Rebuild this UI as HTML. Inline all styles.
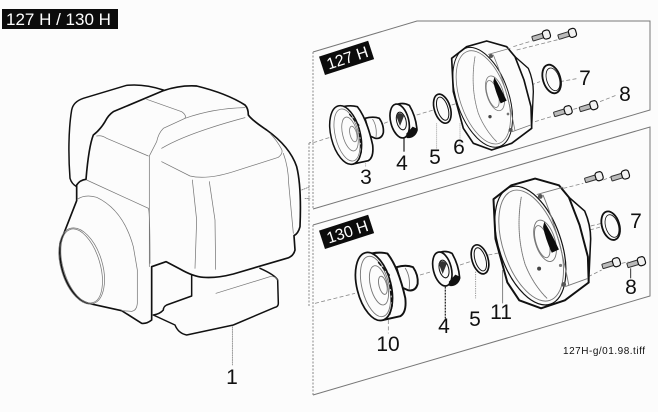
<!DOCTYPE html>
<html><head><meta charset="utf-8"><style>
html,body{margin:0;padding:0;background:#fcfcfc;width:658px;height:412px;overflow:hidden}
svg{display:block}
text{font-family:"Liberation Sans","DejaVu Sans",sans-serif;fill:#111}
.k{fill:none;stroke:#111;stroke-linecap:round;stroke-linejoin:round}
.f{fill:#fcfcfc;stroke:#111;stroke-linecap:round;stroke-linejoin:round}
.t{fill:none;stroke:#777;stroke-width:2.4;stroke-linecap:round}
.l{fill:none;stroke:#777;stroke-width:1}
.d{fill:none;stroke:#888;stroke-width:1;stroke-dasharray:2 1.5}
</style></head><body>
<svg width="658" height="412" viewBox="0 0 658 412" xmlns="http://www.w3.org/2000/svg">
<defs>
<g id="screw"><rect x="-29" y="-7" width="34" height="14" rx="2" fill="#bbb" stroke="#333" stroke-width="3"/><rect x="4" y="-13" width="22" height="26" rx="8" fill="#f2f2f2" stroke="#111" stroke-width="3.5"/></g>
<g id="drum">
<path class="f" stroke-width="5" d="M195 325Q220 318 238 325Q252 345 250 368Q245 388 226 385L210 378Z"/>
<path class="t" d="M218 328Q232 350 228 382"/>
<path class="f" stroke-width="5" d="M112 295Q145 283 172 290Q200 325 218 405Q222 442 205 452L160 462Z"/>
<ellipse class="f" stroke-width="4.5" cx="137" cy="375" rx="44" ry="90" transform="rotate(-14 137 375)"/>
<ellipse class="t" cx="141" cy="375" rx="35" ry="80" transform="rotate(-14 141 375)"/>
<ellipse class="t" cx="150" cy="372" rx="22" ry="52" transform="rotate(-14 150 372)"/>
<ellipse class="t" cx="160" cy="372" rx="10" ry="24" transform="rotate(-14 160 372)"/>
<path d="M148 312L176 345L184 425L176 452" stroke="#111" stroke-width="4" fill="none" stroke-dasharray="12 5"/>
</g>
<g id="bearing">
<path class="f" stroke-width="5" d="M282 288Q305 274 328 286Q348 320 351 360Q345 382 322 382L300 330Z"/>
<ellipse class="f" stroke-width="5" cx="299" cy="333" rx="27" ry="52" transform="rotate(-14 299 333)"/>
<ellipse class="k" stroke-width="3" cx="304" cy="333" rx="14" ry="27" transform="rotate(-14 304 333)"/>
<path d="M288 316Q300 302 312 318L300 348Z" fill="#333"/>
<path d="M324 381Q346 378 351 356L338 350L318 372Z" fill="#111"/>
</g>
<g id="ring">
<ellipse class="k" stroke-width="5" cx="427" cy="296" rx="24" ry="45" transform="rotate(-17 427 296)"/>
<ellipse class="k" stroke-width="3" cx="428" cy="296" rx="16" ry="36" transform="rotate(-17 428 296)"/>
</g>
<g id="housing">
<path class="f" stroke-width="4" d="M645 140L685 175Q700 210 700 245L695 355L660 380Z"/>
<path class="f" stroke-width="5" d="M455 145L500 110L560 93L620 110L645 140L672 210L693 290L695 355L635 400L575 420L520 400L490 355L460 245Z"/>
<ellipse class="k" stroke-width="3" cx="548" cy="262" rx="78" ry="156" transform="rotate(-19 548 262)"/>
<ellipse class="t" cx="550" cy="262" rx="70" ry="146" transform="rotate(-19 550 262)"/>
<path class="t" d="M565 133L630 115M637 365L692 345"/>
<path class="t" d="M580 135Q620 230 645 362"/>
<path class="t" stroke-dasharray="3 2" d="M525 140Q510 230 535 310Q555 360 590 395"/>
<ellipse class="t" cx="585" cy="250" rx="25" ry="54" transform="rotate(-17 585 250)"/>
<ellipse class="t" cx="578" cy="252" rx="16" ry="42" transform="rotate(-17 578 252)"/>
<path d="M583 202Q602 232 620 272L602 280Q586 245 580 215Z" fill="#0c0c0c"/>
<circle cx="570" cy="320" r="5" fill="#444"/><circle cx="573" cy="138" r="6" fill="#555"/><circle cx="632" cy="360" r="6" fill="#555"/><circle cx="624" cy="312" r="4" fill="#777"/>
</g>
<g id="seal">
<ellipse class="k" stroke-width="5.5" cx="755" cy="207" rx="26" ry="44" transform="rotate(-17 755 207)"/>
<ellipse class="k" stroke-width="2.5" cx="759" cy="208" rx="19" ry="35" transform="rotate(-17 759 208)"/>
</g>
</defs>
<rect width="658" height="412" fill="#fcfcfc"/>
<rect x="2" y="9" width="116" height="20" fill="#0c0c0c"/>
<text x="6" y="25" font-size="17" style="fill:#fff">127 H / 130 H</text>

<!-- frames -->
<path class="l" d="M313 52L417 21H650V110L313 209"/>
<path class="l" d="M313 225L650 127V296L313 395"/>
<path class="d" d="M313 52V209M313 225V395"/>
<path class="d" d="M309 143V306M309 143L313 142"/>

<!-- engine -->
<g transform="translate(0,70) scale(.33333)">
<path class="k" stroke-width="4.5" d="M490 60C460 50 420 42 380 46L250 85Q220 95 215 120C205 180 205 260 210 325Q215 342 230 350"/>
<path class="k" stroke-width="5" d="M258 328C262 280 268 225 280 195Q300 180 315 155Q325 135 340 125L490 62Q540 45 590 48Q680 70 735 105Q745 115 745 135Q755 150 800 180Q870 230 890 290Q905 350 900 470Q895 490 882 497L885 540Q880 560 860 565L700 612Q650 625 610 622Q580 620 540 597L498 575L455 590L455 750Q440 762 425 760L365 722L265 700Q230 690 205 645Q175 590 180 520L230 392L230 345Q240 330 258 328Z"/>
<path class="k" stroke-width="4.5" d="M575 615L575 678L500 705Q490 710 490 720Q480 732 460 735L525 765Q535 790 560 795L700 765L825 712Q835 710 835 700L833 630Q825 615 780 595"/>
<g fill="none" stroke="#777" stroke-width="2.2" stroke-linecap="round">
<path d="M440 88L545 125Q560 135 555 145L490 175Q475 190 470 215L448 258V590"/>
<path d="M290 198Q305 195 320 205L445 258"/>
<path d="M260 330L445 415Q450 425 450 580"/>
<path d="M555 145Q640 115 735 113M485 235Q560 190 735 143"/>
<path d="M485 275L570 318Q620 330 700 305L835 262Q850 250 845 238Q830 210 810 190"/>
<path d="M850 250Q865 290 866 340L880 490"/>
<path d="M577 330L590 450L585 595M628 335L645 450L647 598"/>
<path d="M232 388Q255 372 290 382Q370 420 400 530L412 600V700Q410 722 395 724L365 722"/>
<path d="M648 670L810 620Q828 618 832 630"/>
<ellipse cx="245" cy="588" rx="55" ry="115" transform="rotate(-17 245 588)"/>
<ellipse cx="245" cy="588" rx="62" ry="118" transform="rotate(-17 245 588)"/>
<path d="M905 360L930 350M915 385H930" stroke-dasharray="4 3"/>
<path d="M697 770V885" stroke-dasharray="4 3"/>
</g>
</g>

<!-- 127 H parts -->
<g transform="translate(300,10) scale(.33333)">
<g transform="translate(57 140) rotate(-18)"><rect width="155" height="58" fill="#0c0c0c"/><text x="16" y="46" font-size="48" style="fill:#fff">127 H</text></g>
<g fill="none" stroke="#888" stroke-width="2.4" stroke-dasharray="12 7">
<path d="M40 398L90 382M252 340L272 332M350 315L400 300M455 285L520 265M640 245L720 215M780 215L835 205M640 300L690 285M705 335L760 318M820 298L840 292M900 275L950 255M640 110L695 93M650 120L790 85"/>
<path d="M410 340V420M480 340V405M197 460V470" stroke-dasharray="3 3"/>
</g>
<path d="M312 385V425" stroke="#333" stroke-width="4" fill="none"/>
<use href="#drum"/><use href="#bearing"/><use href="#ring"/><use href="#housing"/><use href="#seal"/>
<use href="#screw" transform="translate(725 78) rotate(-17)"/>
<use href="#screw" transform="translate(803 73) rotate(-17)"/>
<use href="#screw" transform="translate(790 305) rotate(-17)"/>
<use href="#screw" transform="translate(867 290) rotate(-17)"/>
</g>

<!-- 130 H parts -->
<g transform="translate(300,130) scale(.33333)">
<g transform="translate(57 302) rotate(-18)"><rect width="155" height="58" fill="#0c0c0c"/><text x="16" y="46" font-size="48" style="fill:#fff">130 H</text></g>
<g fill="none" stroke="#888" stroke-width="2.4" stroke-dasharray="12 7">
<path d="M45 520L165 490M360 435L395 425M480 405L510 395M565 375L720 345M780 310L905 280M790 175L850 160M910 150L935 140M870 300L905 290M865 440L905 420M965 400L985 395"/>
<path d="M527 425V505" stroke-dasharray="4 3"/>
<path d="M265 570V610"/>
</g>
<path d="M436 470V565" stroke="#333" stroke-width="4" stroke-dasharray="6 3" fill="none"/>
<path d="M608 420V520" stroke="#666" stroke-width="2.4" fill="none"/>
<path d="M992 415V445" stroke="#333" stroke-width="3" fill="none"/>
<use href="#drum" transform="translate(63 34.4) scale(1.16)"/>
<use href="#bearing" transform="translate(128 84)"/>
<use href="#ring" transform="translate(113 92)"/>
<use href="#housing" transform="translate(39 35) scale(1.19)"/>
<use href="#seal" transform="translate(177 80)"/>
<use href="#screw" transform="translate(883 143) rotate(-17)"/>
<use href="#screw" transform="translate(962 138) rotate(-17)"/>
<use href="#screw" transform="translate(935 401) rotate(-17)"/>
<use href="#screw" transform="translate(1010 398) rotate(-17)"/>
</g>

<!-- labels -->
<g font-size="21" text-anchor="middle">
<text x="232" y="384">1</text>
<text x="366" y="184">3</text>
<text x="402" y="170">4</text>
<text x="435" y="164">5</text>
<text x="459" y="154">6</text>
<text x="585" y="85">7</text>
<text x="625" y="101">8</text>
<text x="636" y="228">7</text>
<text x="631" y="294">8</text>
<text x="444" y="333">4</text>
<text x="475" y="326">5</text>
<text x="501" y="319">11</text>
<text x="388" y="351">10</text>
</g>
<text x="563" y="354" font-size="10" textLength="82">127H-g/01.98.tiff</text>
</svg>
</body></html>
